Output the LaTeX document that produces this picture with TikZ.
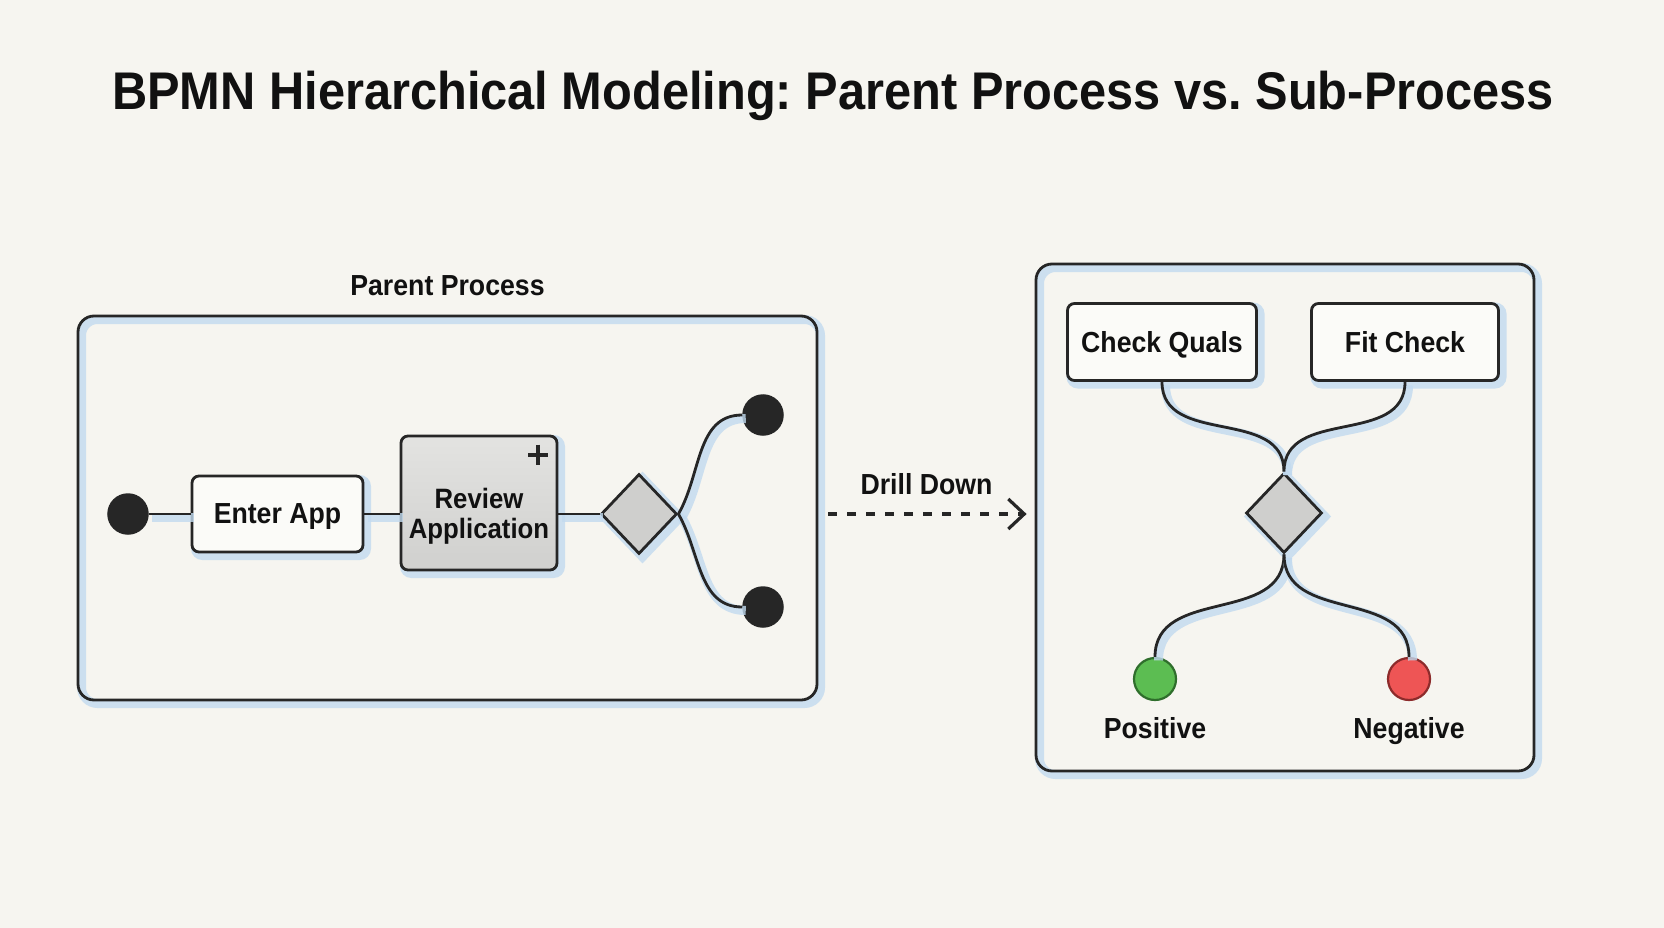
\documentclass[tikz,border=0pt]{standalone}
\usepackage{fontspec}
\setmainfont{Liberation Sans}[FakeStretch=0.92]
\usetikzlibrary{shapes.geometric, arrows.meta, positioning, calc}

\definecolor{paper}{HTML}{F6F5F0}
\definecolor{ink}{HTML}{262626}
\definecolor{txt}{HTML}{111111}
\definecolor{halo}{HTML}{C2DAEF}
\definecolor{taskfill}{HTML}{FBFBF8}
\definecolor{revtop}{HTML}{E3E3E1}
\definecolor{revbot}{HTML}{D0D0CE}
\definecolor{gwfill}{HTML}{CFCFCD}
\definecolor{okfill}{HTML}{5CBD52}
\definecolor{okline}{HTML}{2F6E2C}
\definecolor{badfill}{HTML}{EE5555}
\definecolor{badline}{HTML}{8C2B2B}

\begin{document}
\frenchspacing
\begin{tikzpicture}[
    x=1pt, y=1pt,
    every node/.style={font=\fontsize{29}{30}\selectfont\bfseries, text=txt},
    halo/.style={
        preaction={draw=halo, line width=9pt, opacity=0.8,
                   transform canvas={shift={(3.5pt,-3.5pt)}}}
    },
    poolbox/.style={
        rectangle, draw=ink, line width=2.8pt,
        rounded corners=16pt, halo
    },
    taskbox/.style={
        rectangle, draw=ink, line width=2.8pt,
        rounded corners=7pt, fill=taskfill, inner sep=0pt,
        text depth=0pt, halo
    },
    subtask/.style={
        taskbox, top color=revtop, bottom color=revbot
    },
    gateway/.style={
        diamond, draw=ink, line width=2.8pt, fill=gwfill,
        minimum width=76pt, minimum height=80pt, inner sep=0pt, halo
    },
    endevt/.style={
        circle, draw=ink, fill=ink, line width=1.5pt,
        minimum size=40pt, inner sep=0pt
    },
    okevt/.style={
        circle, draw=okline, fill=okfill, line width=2.2pt,
        minimum size=42pt, inner sep=0pt
    },
    badevt/.style={
        circle, draw=badline, fill=badfill, line width=2.2pt,
        minimum size=42pt, inner sep=0pt
    },
    flow/.style={draw=ink, line width=2.8pt, halo},
    drill/.style={
        draw=ink, line width=3.2pt, dash pattern=on 9pt off 10pt,
        -{Straight Barb[length=16pt, width=30pt]}
    }
]

\fill[paper] (0,0) rectangle (1664,-928);

% Title
\node[font=\fontsize{53}{60}\selectfont\bfseries, anchor=base] (title) at (833,-110)
    {BPMN Hierarchical Modeling: Parent Process vs. Sub-Process};

% Parent process
\node[poolbox, minimum width=739pt, minimum height=384pt] (parent) at (447.5,-508) {};
\node[above=19pt of parent, inner sep=0pt] (parentlbl) {Parent Process};

\node[endevt] (start) at (128,-514) {};
\node[taskbox, minimum width=171pt, minimum height=76pt] (enter) at (277.5,-514) {Enter App};
\node[subtask, minimum width=156pt, minimum height=134pt] (review) at (479,-503) {};
\node[align=center, inner sep=0pt, font=\fontsize{28}{30}\selectfont\bfseries] (reviewlbl)
    at (479,-516) {Review\\Application};
\draw[ink, line width=4pt] ([shift={(-30,-20)}]review.north east) -- ++(20,0)
    ([shift={(-20,-10)}]review.north east) -- ++(0,-20);
\node[gateway] (gwa) at (639,-514) {};
\node[endevt] (enda) at (763,-415) {};
\node[endevt] (endb) at (763,-607) {};

\draw[flow] (start) -- (enter);
\draw[flow] (enter) -- (enter.east -| review.west);
\draw[flow] (review.east |- gwa) -- (gwa);
\draw[flow] (gwa.east) to[out=60, in=180] (enda.west);
\draw[flow] (gwa.east) to[out=-60, in=180] (endb.west);

% Sub-process
\node[poolbox, minimum width=498pt, minimum height=507pt] (sub) at (1285,-517.5) {};

\node[taskbox, minimum width=189pt, minimum height=77pt] (quals) at (1162,-342) {Check Quals};
\node[taskbox, minimum width=187pt, minimum height=77pt] (fit) at (1405,-342) {Fit Check};
\node[gateway] (gwb) at (1284,-513) {};
\node[okevt] (pos) at (1155,-679) {};
\node[below=16pt of pos, inner sep=0pt] (poslbl) {Positive};
\node[badevt] (neg) at (1409,-679) {};
\node[below=16pt of neg, inner sep=0pt] (neglbl) {Negative};

\draw[flow] (quals.south) to[out=-90, in=90, looseness=1.1] (gwb.north);
\draw[flow] (fit.south) to[out=-90, in=90, looseness=1.1] (gwb.north);
\draw[flow] (gwb.south) to[out=-90, in=90, looseness=1.1] (pos.north);
\draw[flow] (gwb.south) to[out=-90, in=90, looseness=1.1] (neg.north);

% Drill down connector
\draw[drill, shorten <=10pt, shorten >=8pt] (parent.east |- gwa) -- (sub.west |- gwa)
    node[midway, above=18pt, inner sep=0pt] (drilllbl) {Drill Down};

\end{tikzpicture}
\end{document}
